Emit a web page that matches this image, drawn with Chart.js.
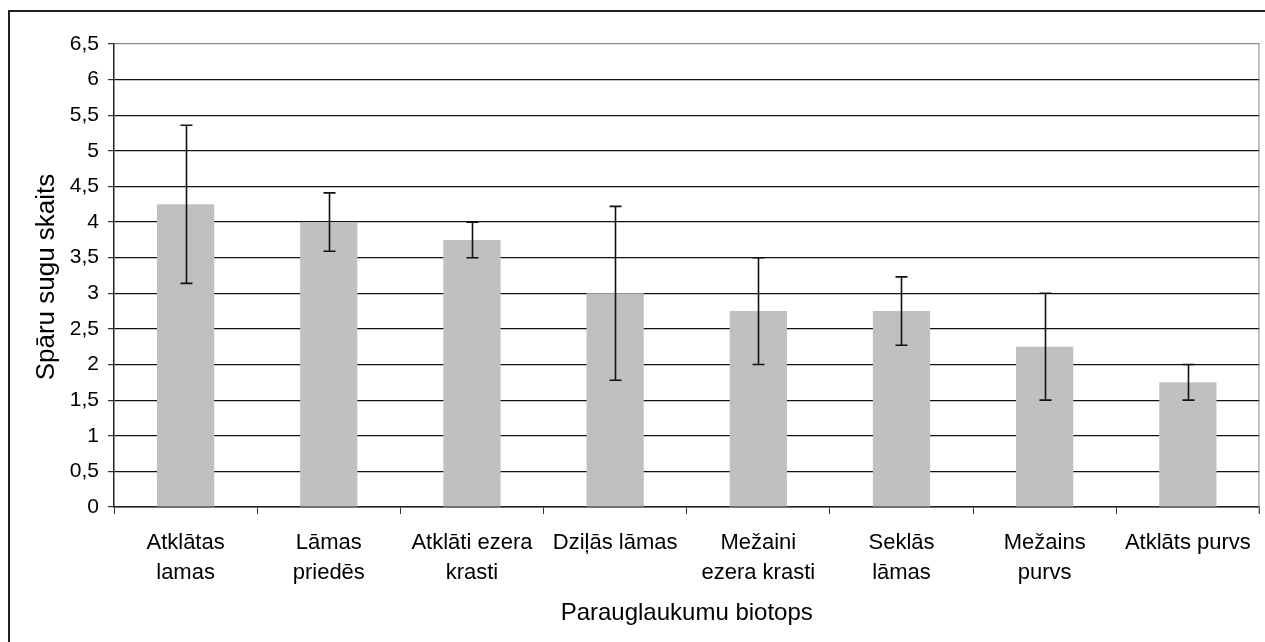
<!DOCTYPE html>
<html>
<head>
<meta charset="utf-8">
<script src="https://cdn.jsdelivr.net/npm/chart.js@4"></script>
<style>
  html, body { margin: 0; padding: 0; background: #fff; }
  #wrap { width: 1265px; height: 642px; position: relative; }
</style>
</head>
<body>
<div id="wrap"><canvas id="chart"></canvas></div>
<script>
// Categories (biotopes) and the mean species count with its error (+/-)
const categories = [
    ['Atklātas', 'lamas'],
    ['Lāmas', 'priedēs'],
    ['Atklāti ezera', 'krasti'],
    ['Dziļās lāmas'],
    ['Mežaini', 'ezera krasti'],
    ['Seklās', 'lāmas'],
    ['Mežains', 'purvs'],
    ['Atklāts purvs']
];
const meanValues = [4.25, 4.0, 3.75, 3.0, 2.75, 2.75, 2.25, 1.75];
const errorValues = [1.11, 0.41, 0.25, 1.22, 0.75, 0.48, 0.75, 0.25];

const yTitle = 'Spāru sugu skaits';
const xTitle = 'Parauglaukumu biotops';

const FONT = "'Liberation Sans', Arial, sans-serif";

// Draws the error bars (whiskers with caps) on top of every bar, using the y scale
const errorBarPlugin = {
    id: 'errorBars',
    afterDatasetsDraw(chart) {
        const ctx = chart.ctx;
        const yScale = chart.scales.y;
        const meta = chart.getDatasetMeta(0);
        ctx.save();
        ctx.strokeStyle = '#111';
        ctx.lineWidth = 1.6;
        meta.data.forEach((bar, i) => {
            const x = Math.round(bar.x) + 0.5;
            const top = yScale.getPixelForValue(meanValues[i] + errorValues[i]);
            const bottom = yScale.getPixelForValue(meanValues[i] - errorValues[i]);
            ctx.beginPath();
            ctx.moveTo(x, top);
            ctx.lineTo(x, bottom);
            // caps
            ctx.moveTo(x - 6, top);
            ctx.lineTo(x + 6, top);
            ctx.moveTo(x - 6, bottom);
            ctx.lineTo(x + 6, bottom);
            ctx.stroke();
        });
        ctx.restore();
    }
};

// Outer frame, right edge of the plot area and the two axis titles
const framePlugin = {
    id: 'frame',
    afterDraw(chart) {
        const ctx = chart.ctx;
        const area = chart.chartArea;
        ctx.save();

        // outer chart border (only left and top are inside the picture)
        ctx.strokeStyle = '#222';
        ctx.lineWidth = 2;
        ctx.beginPath();
        ctx.moveTo(9, chart.height);
        ctx.lineTo(9, 11);
        ctx.lineTo(chart.width, 11);
        ctx.stroke();

        // right border of plot area
        ctx.strokeStyle = '#888';
        ctx.lineWidth = 1;
        ctx.beginPath();
        ctx.moveTo(area.right - 0.5, area.top);
        ctx.lineTo(area.right - 0.5, area.bottom + 7);
        ctx.stroke();

        // axis titles
        ctx.fillStyle = '#000';
        ctx.font = '24px ' + FONT;
        ctx.textAlign = 'center';
        ctx.textBaseline = 'alphabetic';
        ctx.fillText(xTitle, (area.left + area.right) / 2, 620);

        ctx.font = '26px ' + FONT;
        ctx.translate(54, 277);
        ctx.rotate(-Math.PI / 2);
        ctx.fillText(yTitle, 0, 0);
        ctx.restore();
    }
};

new Chart(document.getElementById('chart').getContext('2d'), {
    type: 'bar',
    data: {
        labels: categories,
        datasets: [{
            data: meanValues,
            backgroundColor: '#c0c0c0',
            borderWidth: 0,
            barPercentage: 0.4,
            categoryPercentage: 1.0
        }]
    },
    options: {
        responsive: true,
        maintainAspectRatio: false,
        animation: false,
        devicePixelRatio: 1,
        layout: { padding: { left: 0, top: 44, right: 3, bottom: 0 } },
        plugins: {
            legend: { display: false },
            tooltip: { enabled: false }
        },
        scales: {
            x: {
                grid: {
                    offset: true,
                    drawOnChartArea: false,
                    drawTicks: true,
                    tickLength: 7,
                    tickColor: '#333',
                    lineWidth: 1
                },
                border: { color: '#222', width: 1.5 },
                ticks: {
                    color: '#000',
                    padding: 14,
                    maxRotation: 0,
                    autoSkip: false,
                    font: { family: FONT, size: 22, lineHeight: 1.36 }
                },
                afterFit(scale) { scale.height = 135; }
            },
            y: {
                min: 0,
                max: 6.5,
                grid: {
                    color: (c) => (c.tick && c.tick.value === 6.5 ? '#888' : '#111'),
                    tickColor: '#333',
                    tickLength: 6,
                    lineWidth: 1.2
                },
                border: { color: '#222', width: 1.5 },
                ticks: {
                    stepSize: 0.5,
                    color: '#000',
                    padding: 9,
                    font: { family: FONT, size: 21 },
                    callback: (v) => String(v).replace('.', ',')
                },
                afterFit(scale) { scale.width = 114; }
            }
        }
    },
    plugins: [errorBarPlugin, framePlugin]
});
</script>
</body>
</html>
